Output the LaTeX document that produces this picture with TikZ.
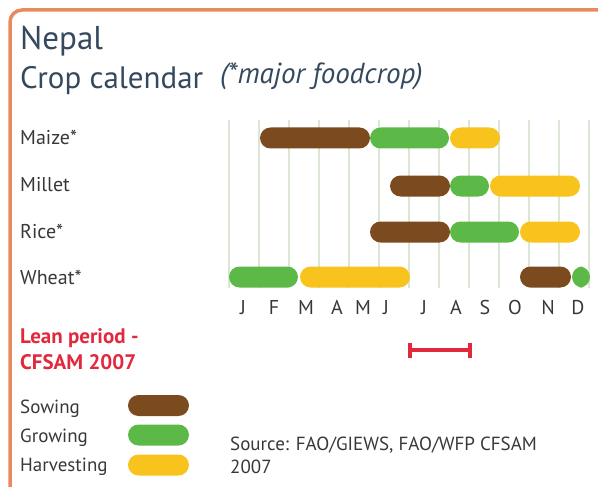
\documentclass[tikz,border=0pt]{standalone}
\usepackage{fontspec}
\setmainfont{PT Sans}
\usetikzlibrary{arrows.meta}
\definecolor{bordercol}{HTML}{E98A5E}
\definecolor{titlecol}{HTML}{34495E}
\definecolor{gridcol}{HTML}{DCE6D5}
\definecolor{sowcol}{HTML}{7B4A1F}
\definecolor{growcol}{HTML}{5DB947}
\definecolor{harvcol}{HTML}{F8C31C}
\definecolor{leancol}{HTML}{E2283D}
\definecolor{textcol}{HTML}{383838}
% one pill of the calendar: row centre, from x, to x, style
\newcommand{\cropbar}[4]{\fill[#4] (#2,#1-10.5) rectangle (#3,#1+10.5);}
\begin{document}
\begin{tikzpicture}[x=1pt, y=-1pt,
    title node/.style={anchor=base west, inner sep=0, text=titlecol, font=\fontsize{33}{38}\selectfont},
    crop node/.style={anchor=base west, inner sep=0, text=textcol, font=\fontsize{20}{24}\selectfont},
    month node/.style={anchor=base, inner sep=0, text=textcol, font=\fontsize{20}{24}\selectfont},
    lean node/.style={anchor=base west, inner sep=0, text=leancol, font=\bfseries\fontsize{21}{26}\selectfont},
    source node/.style={anchor=base west, inner sep=0, text=textcol, font=\fontsize{19}{23}\selectfont},
    sowing/.style={fill=sowcol, rounded corners=10.5pt},
    growing/.style={fill=growcol, rounded corners=10.5pt},
    harvest/.style={fill=harvcol, rounded corners=10.5pt}]
  \useasboundingbox (0,0) rectangle (598,487);

  % frame
  \begin{scope}
    \clip (0,0) rectangle (598,487);
    \draw[bordercol, line width=3.5pt, rounded corners=12pt] (10,10) rectangle (650,530);
  \end{scope}

  % titles
  \node[title node] (nepal) at (20,50) {Nepal};
  \node[title node, font=\fontsize{31}{36}\selectfont] (calendar) at (20,89) {Crop calendar};
  \node[title node, font=\itshape\fontsize{29}{34}\selectfont] (major) at (220,84) {(*major foodcrop)};

  % month grid
  \foreach \i in {0,...,12}
    \draw[gridcol, line width=2pt] (229+30*\i,120) -- (229+30*\i,288);

  % crops
  \node[crop node] (maize) at (20,145) {Maize*};
  \node[crop node] (millet) at (20,192) {Millet};
  \node[crop node] (rice) at (20,238) {Rice*};
  \node[crop node] (wheat) at (20,284) {Wheat*};

  \cropbar{138}{260}{370}{sowing}
  \cropbar{138}{370}{449}{growing}
  \cropbar{138}{450}{500}{harvest}

  \cropbar{186}{390}{450}{sowing}
  \cropbar{186}{450}{489}{growing}
  \cropbar{186}{490}{580}{harvest}

  \cropbar{232}{370}{450}{sowing}
  \cropbar{232}{450}{519}{growing}
  \cropbar{232}{520}{580}{harvest}

  \cropbar{277}{229}{298}{growing}
  \cropbar{277}{300}{410}{harvest}
  \cropbar{277}{520}{571}{sowing}
  \cropbar{277}{572}{590}{growing}

  % months
  \foreach \x/\m [count=\k] in {243/J,274/F,306/M,337/A,363/M,386/J,424/J,456/A,485/S,515/O,548/N,578/D}
    \node[month node] (month\k) at (\x,314) {\m};

  % lean period
  \node[lean node] (lean) at (20,343) {Lean period -};
  \node[lean node] (cfsam) at (20,369) {CFSAM 2007};
  \coordinate (lean start) at (408,350);
  \coordinate (lean end) at (472,350);
  \draw[leancol, line width=4pt, {Bar[width=15pt]}-{Bar[width=15pt]}] (lean start) -- (lean end);

  % legend
  \node[crop node, font=\fontsize{19}{23}\selectfont] (sow) at (20,413) {Sowing};
  \node[crop node, font=\fontsize{19}{23}\selectfont] (grow) at (20,442) {Growing};
  \node[crop node, font=\fontsize{19}{23}\selectfont] (harv) at (20,471) {Harvesting};
  \cropbar{405.5}{128}{189}{sowing}
  \cropbar{435}{128}{189}{growing}
  \cropbar{465}{128}{189}{harvest}

  % source
  \node[source node] (source) at (230,450) {Source: FAO/GIEWS, FAO/WFP CFSAM};
  \node[source node] (year) at (230,473) {2007};
\end{tikzpicture}
\end{document}
